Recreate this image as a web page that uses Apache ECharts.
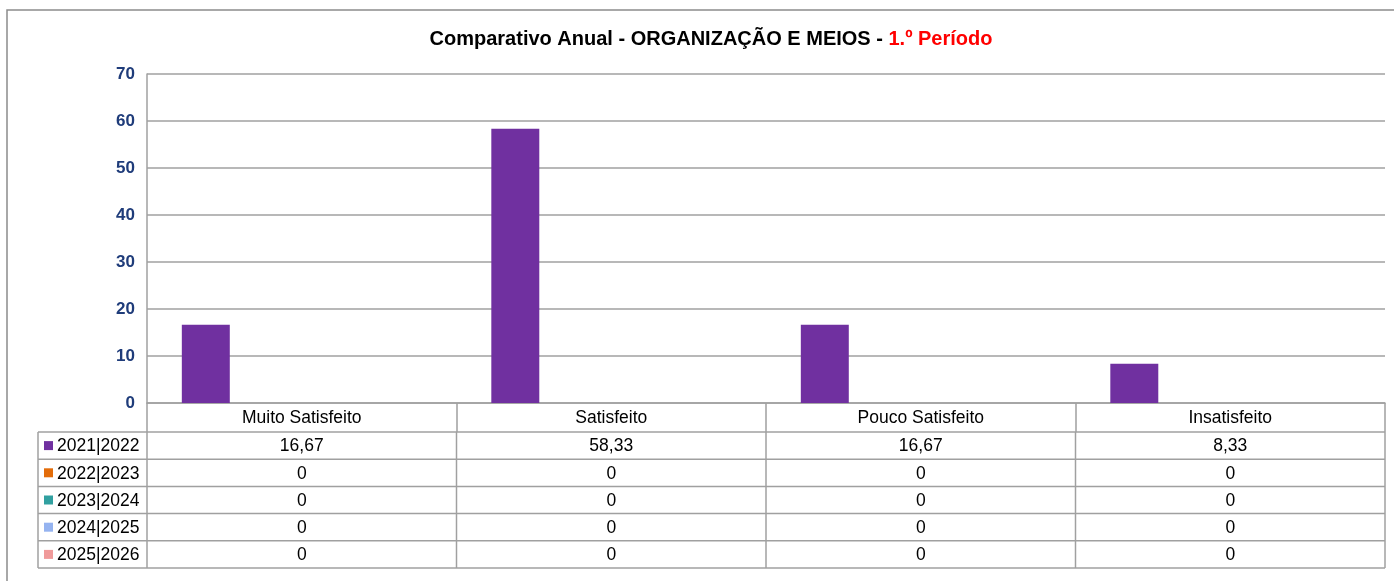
<!DOCTYPE html>
<html>
<head>
<meta charset="utf-8">
<script src="https://cdn.jsdelivr.net/npm/echarts@6/dist/echarts.min.js"></script>
<style>
  html, body { margin: 0; padding: 0; background: #fff; }
  #main { width: 1394px; height: 581px; }
</style>
</head>
<body>
<div id="main"></div>
<script>
// dados
var categorias = ['Muito Satisfeito', 'Satisfeito', 'Pouco Satisfeito', 'Insatisfeito'];
var anos = ['2021|2022', '2022|2023', '2023|2024', '2024|2025', '2025|2026'];
var v2021 = [16.67, 58.33, 16.67, 8.33];
var v2022 = [0, 0, 0, 0];
var v2023 = [0, 0, 0, 0];
var v2024 = [0, 0, 0, 0];
var v2025 = [0, 0, 0, 0];
var valores = [v2021, v2022, v2023, v2024, v2025];
var cores = ['#7030A0', '#E36C09', '#31A0A0', '#95B3F0', '#F09A9A'];

var fonte = '"Liberation Sans", Arial, sans-serif';
var linha = '#a0a0a0';

var myChart = echarts.init(document.getElementById('main'));

var series = [];
for (var i = 0; i < anos.length; i++) {
    series.push({
        name: anos[i],
        type: 'bar',
        data: valores[i],
        barGap: '0%',
        barCategoryGap: '22.5%',
        itemStyle: { color: cores[i] },
        silent: true
    });
}

var option = {
    animation: false,
    backgroundColor: '#fff',
    textStyle: { fontFamily: fonte },
    title: {
        text: '{a|Comparativo Anual - ORGANIZAÇÃO E MEIOS - }{b|1.º Período}',
        left: 706,
        textAlign: 'center',
        top: 24,
        textStyle: {
            rich: {
                a: { fontFamily: fonte, fontSize: 20, fontWeight: 'bold', color: '#000' },
                b: { fontFamily: fonte, fontSize: 20, fontWeight: 'bold', color: '#ff0000' }
            }
        }
    },
    grid: { left: 147, right: 9, top: 74, bottom: 178, containLabel: false },
    xAxis: {
        type: 'category',
        data: categorias,
        axisLine: { show: true, lineStyle: { color: linha, width: 1.5 } },
        axisTick: { show: true, length: 29, lineStyle: { color: linha, width: 1.5 } },
        axisLabel: { fontFamily: fonte, fontSize: 17.5, color: '#000', margin: 6 }
    },
    yAxis: {
        type: 'value',
        min: 0,
        max: 70,
        interval: 10,
        axisLine: { show: true, lineStyle: { color: linha, width: 1.5 } },
        axisTick: { show: false },
        splitLine: { lineStyle: { color: linha, width: 1.5 } },
        axisLabel: { fontFamily: fonte, fontSize: 17, fontWeight: 'bold', color: '#1F3C7A', margin: 12 }
    },
    series: series
};
myChart.setOption(option);

// tabela de dados por baixo do eixo
function tabela() {
    var x0 = myChart.convertToPixel({ xAxisIndex: 0 }, 0);
    var x1 = myChart.convertToPixel({ xAxisIndex: 0 }, 1);
    var banda = x1 - x0;
    var esq = x0 - banda / 2;
    var dir = esq + banda * categorias.length;
    var topo = myChart.convertToPixel({ yAxisIndex: 0 }, 0);
    var cab = 29;
    var altLinha = 27.2;
    var legEsq = 38;
    var y0 = topo + cab;
    var yFim = y0 + altLinha * anos.length;
    var els = [];

    // moldura exterior
    els.push({ type: 'rect', shape: { x: 7, y: 10, width: 1400, height: 600 },
        style: { fill: 'none', stroke: '#8c8c8c', lineWidth: 1.5 }, silent: true });

    for (var r = 0; r <= anos.length; r++) {
        var y = y0 + r * altLinha;
        els.push({ type: 'line', shape: { x1: legEsq, y1: y, x2: dir, y2: y },
            style: { stroke: linha, lineWidth: 1.5 }, silent: true });
    }
    els.push({ type: 'line', shape: { x1: legEsq, y1: y0, x2: legEsq, y2: yFim },
        style: { stroke: linha, lineWidth: 1.5 }, silent: true });
    for (var c = 0; c <= categorias.length; c++) {
        var x = esq + c * banda;
        els.push({ type: 'line', shape: { x1: x, y1: y0, x2: x, y2: yFim },
            style: { stroke: linha, lineWidth: 1.5 }, silent: true });
    }

    for (var r = 0; r < anos.length; r++) {
        var yc = y0 + (r + 0.5) * altLinha;
        els.push({ type: 'rect', shape: { x: 44, y: yc - 4.5, width: 9, height: 9 },
            style: { fill: cores[r] }, silent: true });
        els.push({ type: 'text', x: 57, y: yc + 1,
            style: { text: anos[r], font: '17.5px ' + fonte, fill: '#000', align: 'left', verticalAlign: 'middle' },
            silent: true });
        for (var c = 0; c < categorias.length; c++) {
            var cx = myChart.convertToPixel({ xAxisIndex: 0 }, c);
            els.push({ type: 'text', x: cx, y: yc + 1,
                style: { text: String(valores[r][c]).replace('.', ','), font: '17.5px ' + fonte,
                    fill: '#000', align: 'center', verticalAlign: 'middle' },
                silent: true });
        }
    }
    myChart.setOption({ graphic: { elements: els } });
}
tabela();
</script>
</body>
</html>
